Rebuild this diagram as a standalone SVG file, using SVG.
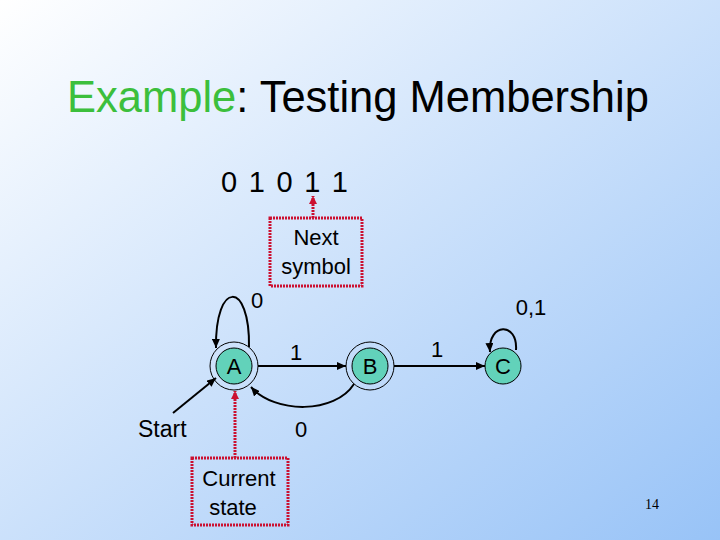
<svg xmlns="http://www.w3.org/2000/svg" width="720" height="540" viewBox="0 0 720 540">
  <defs>
    <linearGradient id="bg" x1="0" y1="0" x2="1" y2="1">
      <stop offset="0" stop-color="#ffffff"/>
      <stop offset="1" stop-color="#98c3f7"/>
    </linearGradient>
    <marker id="ah" markerUnits="userSpaceOnUse" markerWidth="9" markerHeight="8" refX="9" refY="4" orient="auto" viewBox="0 0 9 8">
      <path d="M0,0 L9,4 L0,8 z" fill="#000"/>
    </marker>
    <marker id="rh" markerUnits="userSpaceOnUse" markerWidth="8" markerHeight="8" refX="8" refY="4" orient="auto" viewBox="0 0 8 8">
      <path d="M0,0 L8,4 L0,8 z" fill="#cc1030"/>
    </marker>
  </defs>
  <style>
    text { font-family: "Liberation Sans", Arial, sans-serif; fill: #000; }
    .lbl { font-size: 22px; text-anchor: middle; }
    .edge { fill: none; stroke: #000; stroke-width: 2; marker-end: url(#ah); }
    .inner { fill: #62d2ba; stroke: #000; stroke-width: 1; }
    .outer { fill: none; stroke: #000; stroke-width: 1; }
    .note { fill: none; stroke: #cc1030; stroke-width: 3; stroke-dasharray: 2 1; }
    .pointer { fill: none; stroke: #cc1030; stroke-width: 3; stroke-dasharray: 2 1; marker-end: url(#rh); }
  </style>
  <rect x="0" y="0" width="720" height="540" fill="url(#bg)"/>

  <text x="67" y="112" font-size="43.5"><tspan fill="#3cbf3c">Example</tspan>: Testing Membership</text>

  <text x="221" y="192" font-size="29" textLength="127" lengthAdjust="spacing">0 1 0 1 1</text>

  <g id="connectors">
    <path class="edge" d="M249,347 C250,280 215,280 216,348"/>
    <line class="edge" x1="258" y1="366" x2="346" y2="366"/>
    <path class="edge" d="M354,384 C335,414 275,414 251,387"/>
    <line class="edge" x1="394" y1="366" x2="485" y2="366"/>
    <path class="edge" d="M516,350 C518,322 488,322 490,352"/>
    <line class="edge" x1="173" y1="413" x2="216" y2="378"/>
    <text class="lbl" x="257" y="308">0</text>
    <text class="lbl" x="296" y="360">1</text>
    <text class="lbl" x="301" y="437">0</text>
    <text class="lbl" x="437" y="357">1</text>
    <text class="lbl" x="531" y="315">0,1</text>
  </g>

  <g id="A">
    <circle class="outer" cx="234" cy="366" r="24"/>
    <circle class="inner" cx="234" cy="366" r="18"/>
    <text class="lbl" x="234" y="374">A</text>
  </g>
  <g id="B">
    <circle class="outer" cx="370" cy="366" r="24"/>
    <circle class="inner" cx="370" cy="366" r="18"/>
    <text class="lbl" x="370" y="374">B</text>
  </g>
  <g id="C">
    <circle class="inner" cx="503" cy="366" r="18"/>
    <text class="lbl" x="503" y="374">C</text>
  </g>

  <g id="start">
    <text x="138" y="437" font-size="23">Start</text>
  </g>

  <g id="next-symbol">
    <line class="pointer" x1="313" y1="218" x2="313" y2="196"/>
    <rect class="note" x="270" y="218" width="92" height="68"/>
    <text class="lbl" x="316" y="245" font-size="22.5">Next</text>
    <text class="lbl" x="316" y="274" font-size="22.5">symbol</text>
  </g>

  <g id="current-state">
    <line class="pointer" x1="235" y1="458" x2="235" y2="391"/>
    <rect class="note" x="192" y="458" width="96" height="67"/>
    <text class="lbl" x="239" y="486" font-size="23">Current</text>
    <text class="lbl" x="233" y="515" font-size="23">state</text>
  </g>

  <text x="645" y="509" font-size="14" style="font-family:'Liberation Serif',serif" fill="#1a1a40">14</text>
</svg>
